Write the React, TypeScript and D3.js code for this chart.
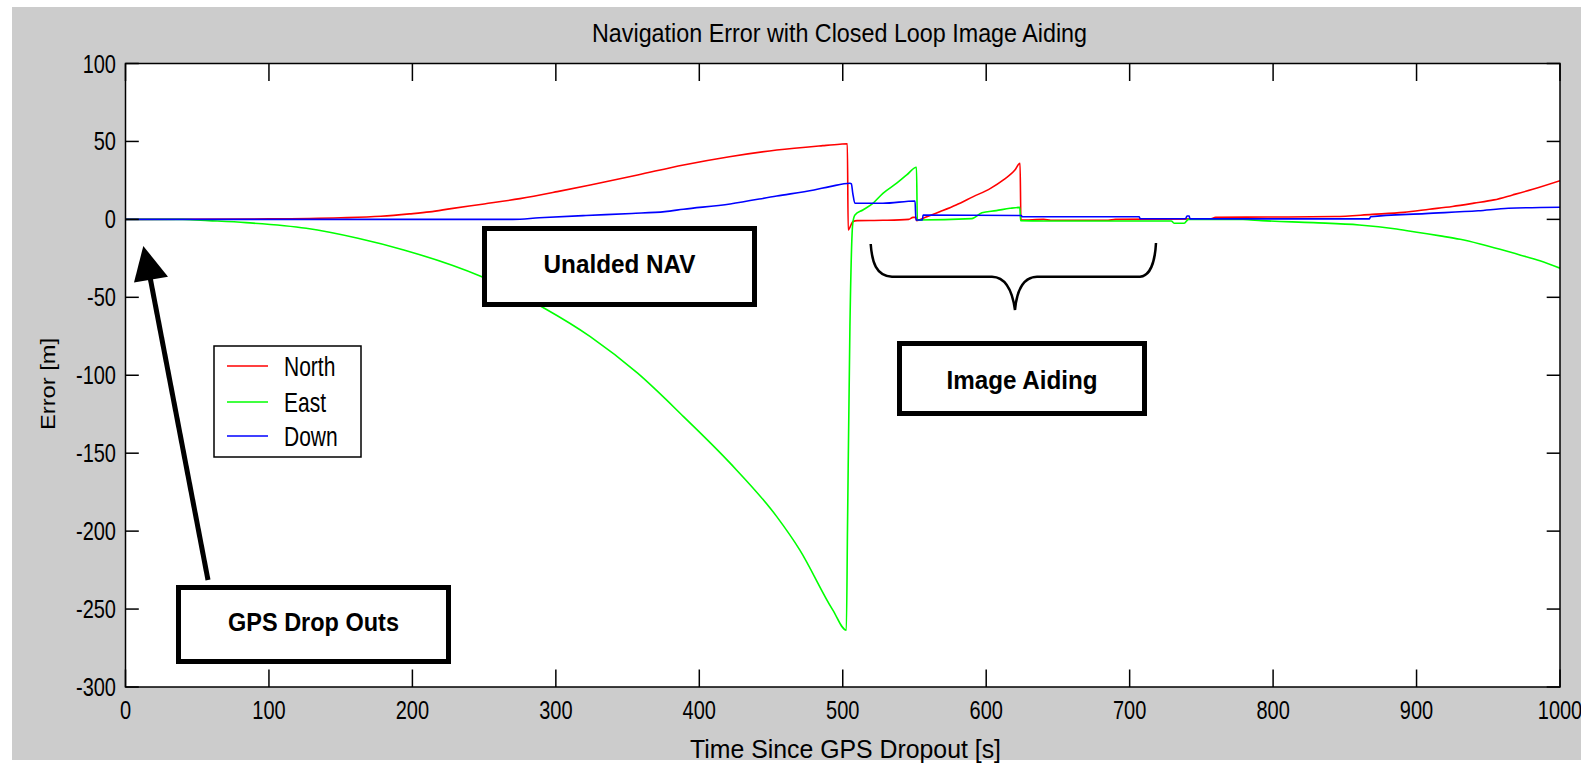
import React from 'react';
import * as d3 from 'd3';

const X_TICKS = [0, 100, 200, 300, 400, 500, 600, 700, 800, 900, 1000];
const Y_TICKS = [-300, -250, -200, -150, -100, -50, 0, 50, 100];
const SERIES_NAMES = ['North', 'East', 'Down'];
const SERIES_COLORS = ['#ff0000', '#00ff00', '#0000ff'];

const T_NORTH = [0, 100, 150, 178, 198, 212, 227, 250, 275, 301, 324, 357, 389, 421, 454, 486, 498, 503.2, 503.8, 507, 510, 528, 546, 549, 551, 551.5, 556, 568, 579, 591, 603, 612, 620, 623.6, 624.2, 640, 645, 685, 690, 756, 760, 796, 843, 869, 891, 909, 925, 940, 954, 967, 981, 1000];
const V_NORTH = [0, 0.3, 1, 2, 3.5, 4.8, 6.9, 9.9, 13.3, 17.8, 22.1, 28.5, 34.9, 40.2, 44.5, 47.3, 48.2, 48.5, -6.8, -1.5, -0.8, -0.6, 0, 1.3, 1.3, -0.8, 0.7, 5, 9.2, 14.6, 19.9, 25.3, 31.7, 36, -0.5, 0, -0.6, -0.6, 0, 0.3, 1.3, 1.5, 1.8, 3.2, 4.5, 6.5, 8.3, 10.4, 12.5, 15.7, 19.3, 24.8];

const T_EAST = [0, 40, 58, 84, 126, 162, 194, 248, 292, 324, 357, 389, 421.5, 454, 470, 493, 502.5, 503.3, 505, 507, 508.5, 514, 521, 528, 537.6, 544.6, 551.4, 552, 590, 597, 607, 616.6, 623.4, 624, 640, 729, 731, 738, 741, 779, 792, 828, 860, 886, 902.6, 916.5, 930.4, 944.3, 958.2, 972, 986, 1000];
const V_EAST = [0, 0, -0.8, -2.1, -5.7, -12.1, -19.6, -36.7, -57, -75.2, -98.7, -126.5, -156.4, -190.7, -212, -250.5, -263.5, -199, -68.8, -2.4, 2.8, 6, 10.3, 16.7, 23.2, 28.5, 33.4, -0.4, 0.5, 4.3, 5.6, 7.1, 7.7, -0.8, -1, -1, -2.5, -2.5, 0, 0, -0.8, -2.1, -3.6, -6.2, -8.6, -10.6, -12.8, -15.8, -19.2, -22.8, -26.5, -31.3];

const T_DOWN = [0, 270, 288.5, 321, 353, 376, 389, 421.5, 454, 480, 491, 505, 506, 507, 508.5, 528, 550.4, 551, 555.5, 556, 624.5, 625, 706.7, 707.3, 739, 740, 741.5, 742, 867, 868, 906, 943, 964, 1000];
const V_DOWN = [0, 0, 1, 2.5, 3.8, 5, 6.5, 9.9, 15, 18.9, 21, 23.2, 22.8, 16.7, 10.3, 10.3, 11.8, -0.4, -0.4, 2.8, 2.5, 1.7, 1.7, 0.4, 0.4, 2.2, 2.2, 0.3, 0.3, 1.7, 3.7, 5.5, 7.1, 7.8];

const TITLE = 'Navigation Error with Closed Loop Image Aiding';
const X_LABEL = 'Time Since GPS Dropout [s]';
const Y_LABEL = 'Error [m]';

const FONT = '"Liberation Sans", Arial, Helvetica, sans-serif';
const SY = 1.33;

function STxt(props: { x: number; y: number; text: string; size?: number; anchor?: string; bold?: boolean; len?: number; sy?: number }) {
  const { x, y, text, size = 20, anchor = 'middle', bold = false, len, sy = SY } = props;
  return (
    <text
      transform={`translate(${x},${y}) scale(1,${sy})`}
      x={0}
      y={0}
      fontSize={size}
      fontFamily={FONT}
      fontWeight={bold ? 'bold' : 'normal'}
      textAnchor={anchor as any}
      dominantBaseline="central"
      fill="#000"
      {...(len ? { textLength: len, lengthAdjust: 'spacingAndGlyphs' } : {})}
    >
      {text}
    </text>
  );
}

export default function App() {
  const W = 1581, H = 764;
  const left = 125.5, right = 1560, top = 63.5, bottom = 687;
  const x = d3.scaleLinear().domain([0, 1000]).range([left, right]);
  const y = d3.scaleLinear().domain([-300, 100]).range([bottom, top]);
  const line = d3
    .line<[number, number]>()
    .x(d => x(d[0]))
    .y(d => y(d[1]))
    .curve(d3.curveMonotoneX);

  const series = [
    { t: T_NORTH, v: V_NORTH },
    { t: T_EAST, v: V_EAST },
    { t: T_DOWN, v: V_DOWN },
  ];

  const xTickLen = 17.5, yTickLen = 13.3;

  const boxes = [
    { x0: 482, y0: 226, x1: 757, y1: 307, text: 'Unalded NAV', len: 152, ty: 264 },
    { x0: 897, y0: 341, x1: 1147, y1: 416, text: 'Image Aiding', len: 151, ty: 380 },
    { x0: 176, y0: 585, x1: 451, y1: 664, text: 'GPS Drop Outs', len: 171, ty: 622 },
  ];

  return (
    <svg width={W} height={H} style={{ position: 'absolute', left: 0, top: 0, background: '#fff' }}>
      <rect x={12} y={7} width={W - 12} height={753} fill="#cccccc" />
      <rect x={left} y={top} width={right - left} height={bottom - top} fill="#fff" />
      <defs>
        <clipPath id="plotclip">
          <rect x={left} y={top} width={right - left} height={bottom - top} />
        </clipPath>
      </defs>

      <g clipPath="url(#plotclip)">
        {series.map((s, i) => (
          <path
            key={i}
            d={line(s.t.map((t, j) => [t, s.v[j]] as [number, number])) || ''}
            fill="none"
            stroke={SERIES_COLORS[i]}
            strokeWidth={1.6}
          />
        ))}
      </g>

      <rect x={left} y={top} width={right - left} height={bottom - top} fill="none" stroke="#000" strokeWidth={1.5} />
      {X_TICKS.map(t => (
        <g key={'xt' + t}>
          <line x1={x(t)} x2={x(t)} y1={bottom} y2={bottom - xTickLen} stroke="#000" strokeWidth={1.5} />
          <line x1={x(t)} x2={x(t)} y1={top} y2={top + xTickLen} stroke="#000" strokeWidth={1.5} />
          <STxt x={x(t)} y={710} text={String(t)} />
        </g>
      ))}
      {Y_TICKS.map(v => (
        <g key={'yt' + v}>
          <line x1={left} x2={left + yTickLen} y1={y(v)} y2={y(v)} stroke="#000" strokeWidth={1.5} />
          <line x1={right} x2={right - yTickLen} y1={y(v)} y2={y(v)} stroke="#000" strokeWidth={1.5} />
          <STxt x={116} y={y(v)} text={String(v)} anchor="end" />
        </g>
      ))}

      <STxt x={839.5} y={33} text={TITLE} len={495} />
      <STxt x={845.5} y={749} text={X_LABEL} len={311} />
      <text
        transform={`translate(48,384) rotate(-90)`}
        fontSize={20}
        fontFamily={FONT}
        textAnchor="middle"
        dominantBaseline="central"
        textLength={92}
        lengthAdjust="spacingAndGlyphs"
      >
        {Y_LABEL}
      </text>

      <rect x={214} y={346} width={147} height={111} fill="#fff" stroke="#000" strokeWidth={1.5} />
      {SERIES_NAMES.map((n, i) => {
        const ly = [366, 402, 436][i];
        return (
          <g key={n}>
            <line x1={227} x2={268} y1={ly} y2={ly} stroke={SERIES_COLORS[i]} strokeWidth={1.6} />
            <STxt x={284} y={ly} text={n} anchor="start" size={21} sy={1.3} />
          </g>
        );
      })}

      {boxes.map(b => (
        <g key={b.text}>
          <rect x={b.x0 + 2.5} y={b.y0 + 2.5} width={b.x1 - b.x0 - 5} height={b.y1 - b.y0 - 5} fill="#fff" stroke="#000" strokeWidth={5} />
          <STxt x={(b.x0 + b.x1) / 2} y={b.ty} text={b.text} bold size={22} sy={1.18} len={b.len} />
        </g>
      ))}

      <line x1={208} y1={580} x2={150} y2={277} stroke="#000" strokeWidth={5} />
      <polygon points="143.3,246 134,282.5 168,276.7" fill="#000" />

      <path
        d="M870.7,244 C872,262 876,276 892,276.7 L992,276.7 C1005,277 1012,288 1015,310 C1017,288 1024,277 1037,276.7 L1140,276.7 C1150,276 1155,262 1156,243"
        fill="none"
        stroke="#000"
        strokeWidth={2.5}
      />
    </svg>
  );
}
